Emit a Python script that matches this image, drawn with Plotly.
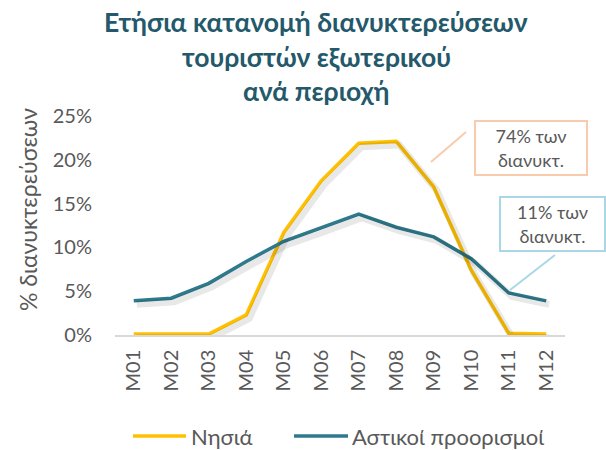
import plotly.graph_objects as go

months = ["M01", "M02", "M03", "M04", "M05", "M06", "M07", "M08", "M09", "M10", "M11", "M12"]
nisia = [0.1, 0.1, 0.1, 2.3, 11.7, 17.6, 21.9, 22.1, 16.9, 7.4, 0.2, 0.1]
astikoi = [3.9, 4.2, 5.9, 8.4, 10.7, 12.2, 13.8, 12.3, 11.2, 8.7, 4.8, 3.9]
series_names = ["Νησιά", "Αστικοί προορισμοί"]
yticks = [0, 5, 10, 15, 20, 25]
ytick_labels = ["0%", "5%", "10%", "15%", "20%", "25%"]
title_lines = ["Ετήσια κατανομή διανυκτερεύσεων", "τουριστών εξωτερικού", "ανά περιοχή"]
y_title = "% διανυκτερεύσεων"
note_islands = "74% των<br>διανυκτ."
note_urban = "11% των<br>διανυκτ."

W, H = 606, 450
L, R, T, B = 115, 41, 116, 115
pw, ph = W - L - R, H - T - B

def px(x):
    return (x - L) / pw

def py(y):
    return (H - B - y) / ph

GOLD = "#FFC000"
TEAL = "#2E7A8C"
GRAY = "#595959"
FONT = "Lato, 'Open Sans', sans-serif"

fig = go.Figure()
# soft shadow under lines
for vals in (nisia, astikoi):
    fig.add_trace(go.Scatter(x=months, y=vals, mode="lines", showlegend=False, hoverinfo="skip",
                             line=dict(color="rgba(0,0,0,0.09)", width=7), xaxis="x2", yaxis="y2"))
for vals, name, col in ((nisia, series_names[0], GOLD), (astikoi, series_names[1], TEAL)):
    fig.add_trace(go.Scatter(x=months, y=vals, mode="lines", name=name, showlegend=False,
                             line=dict(color=col, width=3.5)))

annotations = []
for line, yy in zip(title_lines, [22, 57, 91]):
    annotations.append(dict(text="<b>" + line + "</b>", xref="paper", yref="paper",
                            x=px(316), y=py(yy), xanchor="center", yanchor="middle",
                            showarrow=False, font=dict(family=FONT, size=26.5, color="#24596B")))
annotations.append(dict(text=y_title, xref="paper", yref="paper", x=px(28), y=py(210),
                        xanchor="center", yanchor="middle", textangle=-90, showarrow=False,
                        font=dict(family=FONT, size=23, color=GRAY)))
annotations.append(dict(text=note_islands, xref="paper", yref="paper", x=px(531), y=py(148),
                        xanchor="center", yanchor="middle", showarrow=False, align="center",
                        font=dict(family=FONT, size=18, color=GRAY),
                        bordercolor="#F8CBAD", borderwidth=2, borderpad=3, width=104, height=46,
                        bgcolor="white"))
annotations.append(dict(text=note_urban, xref="paper", yref="paper", x=px(552), y=py(224),
                        xanchor="center", yanchor="middle", showarrow=False, align="center",
                        font=dict(family=FONT, size=18, color=GRAY),
                        bordercolor="#A8D8E6", borderwidth=2, borderpad=3, width=97, height=46,
                        bgcolor="white"))

shapes = [
    dict(type="line", xref="paper", yref="paper", x0=px(466), y0=py(132), x1=px(431), y1=py(162),
         line=dict(color="#F8CBAD", width=2)),
    dict(type="line", xref="paper", yref="paper", x0=px(555), y0=py(255), x1=px(510), y1=py(290),
         line=dict(color="#A8D8E6", width=2)),
]

# custom legend
for (x0, x1, tx), name, col in zip([(133, 186, 189), (294, 348, 350)], series_names, [GOLD, TEAL]):
    shapes.append(dict(type="line", xref="paper", yref="paper", x0=px(x0), x1=px(x1),
                       y0=py(436), y1=py(436), line=dict(color=col, width=3.5)))
    annotations.append(dict(text=name, xref="paper", yref="paper", x=px(tx), y=py(436),
                            xanchor="left", yanchor="middle", showarrow=False,
                            font=dict(family=FONT, size=22, color=GRAY)))

fig.update_layout(
    width=W, height=H, margin=dict(l=L, r=R, t=T, b=B, autoexpand=False),
    paper_bgcolor="white", plot_bgcolor="white",
    font=dict(family=FONT, color=GRAY),
    xaxis=dict(type="category", range=[-0.5, 11.5], showgrid=False, showline=True,
               linecolor="#D9D9D9", linewidth=1.5, ticks="outside", ticklen=5,
               tickcolor="rgba(0,0,0,0)", tickangle=-90,
               tickfont=dict(size=20, color=GRAY, family=FONT), zeroline=False),
    yaxis=dict(range=[0, 25], tickvals=yticks, ticktext=ytick_labels, showgrid=False,
               zeroline=False, showline=False, ticks="outside", ticklen=18,
               tickcolor="rgba(0,0,0,0)", tickfont=dict(size=20, color=GRAY)),
    xaxis2=dict(type="category", range=[-0.58, 11.42], overlaying="x", visible=False),
    yaxis2=dict(range=[0.4, 25.4], overlaying="y", visible=False),
    annotations=annotations, shapes=shapes,
    showlegend=False,
)

fig.write_html("out.html", config={"displayModeBar": False},
               post_script="document.body.style.margin='0';document.body.style.overflow='hidden';")
